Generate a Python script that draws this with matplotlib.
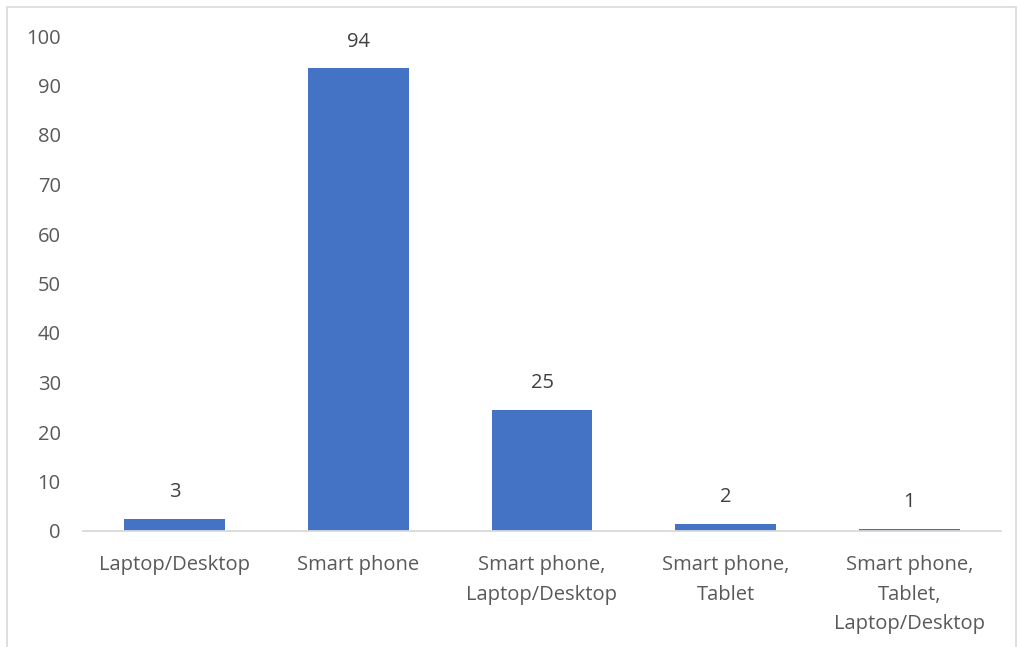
import math
import matplotlib
matplotlib.use("Agg")
import matplotlib.pyplot as plt
from matplotlib.patches import Rectangle

categories = ["Laptop/Desktop", "Smart phone", "Smart phone,\nLaptop/Desktop",
              "Smart phone,\nTablet", "Smart phone,\nTablet,\nLaptop/Desktop"]
values = [2.5, 93.5, 24.5, 1.5, 0.5]
y_ticks = [0, 10, 20, 30, 40, 50, 60, 70, 80, 90, 100]

plt.rcParams['font.family'] = ['Open Sans', 'DejaVu Sans']

W, H = 1019, 647
fig = plt.figure(figsize=(W / 100, H / 100), dpi=100)
ax = fig.add_axes([83 / W, (H - 531) / H, (1001 - 83) / W, (531 - 36) / H])

x = list(range(len(categories)))
bars = ax.bar(x, values, width=0.55, color="#4472C4", zorder=2)

for xi, v in zip(x, values):
    label = str(int(math.floor(v + 0.5)))
    ax.annotate(label, (xi, v), xytext=(0, 19), textcoords="offset points",
                ha="center", va="center", fontsize=14.5, color="#404040")

ax.set_xlim(-0.5, len(categories) - 0.5)
ax.set_ylim(0, 100)
ax.set_yticks(y_ticks)
ax.set_xticks(x)
ax.set_xticklabels(categories, fontsize=14.5, color="#595959", linespacing=1.62, va="top")
ax.tick_params(axis="y", length=0, pad=16, labelsize=14.5, labelcolor="#595959")
ax.tick_params(axis="x", length=0, pad=17.5)

for s in ["top", "right", "left"]:
    ax.spines[s].set_visible(False)
ax.spines["bottom"].set_color("#D9D9D9")
ax.spines["bottom"].set_linewidth(1.3)
ax.spines["bottom"].set_zorder(3)

# chart border
fig.patches.append(Rectangle((7 / W, -0.05), (1016 - 7) / W, (H - 7) / H + 0.05,
                             transform=fig.transFigure, fill=False,
                             edgecolor="#D9D9D9", linewidth=1.2))

fig.savefig("out.png", dpi=100)
